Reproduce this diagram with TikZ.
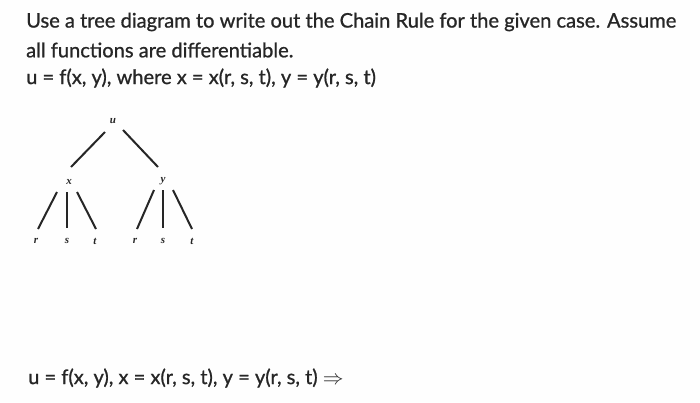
\documentclass[tikz,border=0pt]{standalone}
\usepackage{fontspec}
\setmainfont{Lato}[BoldFont=Lato,BoldFeatures={FakeBold=0.9}]
\newfontfamily\lbfont{Liberation Serif}
\begin{document}
\begin{tikzpicture}[x=1pt,y=-1pt,
  txt/.style={anchor=west,inner sep=0pt,text=black!85,font=\fontsize{20.1}{22}\selectfont\bfseries},
  lbl/.style={inner sep=0pt,text=black!85,font=\lbfont\fontsize{11}{12}\selectfont\bfseries\itshape},
  br/.style={line width=2pt,draw=black!85}]
\fill[gray!18!white!92!blue!3] (0,0) rectangle (700,402);
\useasboundingbox (0,0) rectangle (700,402);
\node[txt] (l1) at (26,22) {Use a tree diagram to write out the Chain Rule for the given case. Assume};
\node[txt] (l2) at (26,50) {all functions are differentiable.};
\node[txt] (l3) at (26,78) {u = f(x, y), where x = x(r, s, t), y = y(r, s, t)};
\node[txt] (l4) at (28,378) {u = f(x, y), x = x(r, s, t), y = y(r, s, t) $\Rightarrow$};
\node[lbl] (u) at (113,121) {u};
\node[lbl] (x) at (69,182) {x};
\node[lbl] (y) at (163,181) {y};
\node[lbl] (r1) at (36,241) {r};
\node[lbl] (s1) at (67,241) {s};
\node[lbl] (t1) at (95,241) {t};
\node[lbl] (r2) at (135,241) {r};
\node[lbl] (s2) at (163,241) {s};
\node[lbl] (t2) at (192,241) {t};
\draw[br] ([shift={(-8,11)}]u.center) -- ([shift={(2,-15)}]x.center);
\draw[br] ([shift={(10,9)}]u.center) -- ([shift={(-5,-14)}]y.center);
\draw[br] ([shift={(-12,10)}]x.center) -- ([shift={(2,-12)}]r1.center);
\draw[br] ([shift={(-2,10)}]x.center) -- ([shift={(0,-13)}]s1.center);
\draw[br] ([shift={(8,10)}]x.center) -- ([shift={(1,-12)}]t1.center);
\draw[br] ([shift={(-9,9)}]y.center) -- ([shift={(2,-12)}]r2.center);
\draw[br] ([shift={(0,9)}]y.center) -- ([shift={(0,-13)}]s2.center);
\draw[br] ([shift={(10,9)}]y.center) -- ([shift={(0,-12)}]t2.center);
\end{tikzpicture}
\end{document}
